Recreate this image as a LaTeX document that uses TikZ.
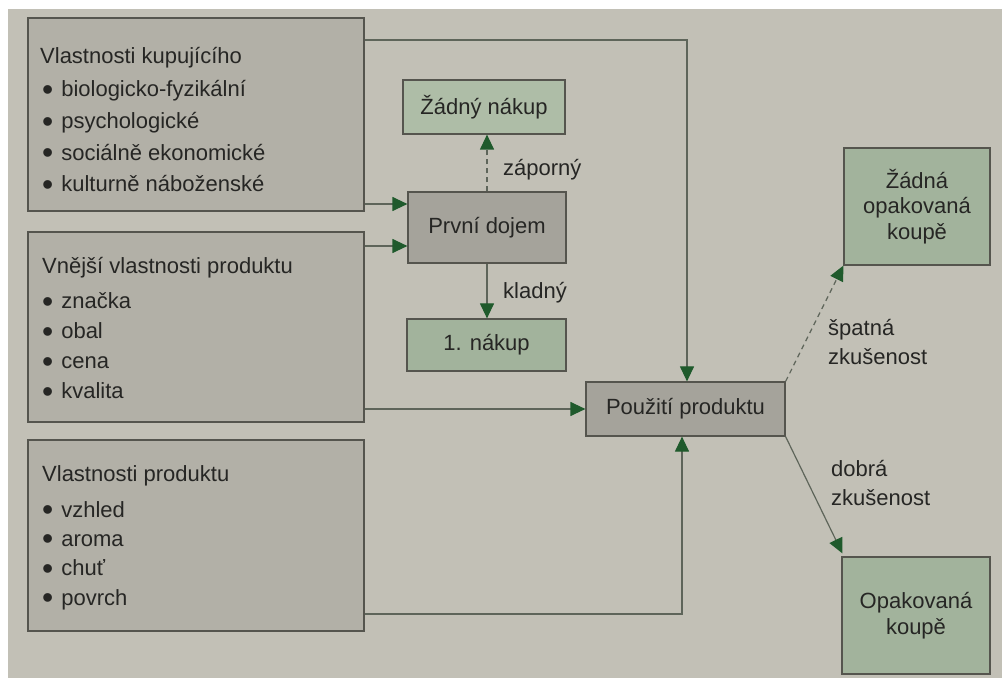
\documentclass[tikz,border=0pt]{standalone}
\usepackage{fontspec}
\setmainfont{Liberation Sans}
\usetikzlibrary{arrows.meta}

\definecolor{paper}{HTML}{C2C0B6}
\definecolor{boxgray}{HTML}{B2B0A7}
\definecolor{boxdark}{HTML}{A5A39B}
\definecolor{boxgreen}{HTML}{A2B39C}
\definecolor{boxgreenlt}{HTML}{AEBDA7}
\definecolor{edge}{HTML}{55554E}
\definecolor{wire}{HTML}{5E655A}
\definecolor{tipgreen}{HTML}{1F5A2C}
\definecolor{ink}{HTML}{262624}

\tikzset{
  panel/.style={draw=edge, line width=1.2pt, fill=boxgray, inner sep=0pt},
  darkpanel/.style={panel, fill=boxdark},
  greenpanel/.style={panel, fill=boxgreen},
  lightgreenpanel/.style={panel, fill=boxgreenlt},
  txt/.style={text=ink, font=\fontsize{22}{26}\selectfont, inner sep=0pt},
  heading/.style={txt, anchor=base west},
  bullet/.style={txt, anchor=base west},
  conn/.style={draw=wire, line width=1.2pt,
    -{Triangle[length=15pt,width=14pt,color=tipgreen]}},
  dashconn/.style={conn, dash pattern=on 5pt off 4pt},
}

% list item with a large round bullet, centred on the x-height
\newcommand{\itm}[1]{\raisebox{-0.16em}[0.5em][0pt]{\scalebox{1.45}{\textbullet}}\hspace{0.36em}#1}

\begin{document}
\begin{tikzpicture}[x=1pt,y=-1pt]
\useasboundingbox (0,0) rectangle (1005,679);
\fill[white] (0,0) rectangle (1005,679);
\fill[paper] (8,9) rectangle (1002,678);

% source panels on the left
\node[panel, minimum width=336pt, minimum height=193pt] (kup) at (196,114.5) {};
\node[heading] (kupT) at (40,64) {Vlastnosti kupujícího};
\foreach \t [count=\i] in {biologicko-fyzikální, psychologické, sociálně ekonomické, kulturně náboženské}
  \node[bullet] (kup-\i) at (42,{97+31.6*(\i-1)}) {\itm{\t}};

\node[panel, minimum width=336pt, minimum height=190pt] (vnej) at (196,327) {};
\node[heading] (vnejT) at (42,274) {Vnější vlastnosti produktu};
\foreach \t [count=\i] in {značka, obal, cena, kvalita}
  \node[bullet] (vnej-\i) at (42,{309+30*(\i-1)}) {\itm{\t}};

\node[panel, minimum width=336pt, minimum height=191pt] (vl) at (196,535.5) {};
\node[heading] (vlT) at (42,481) {Vlastnosti produktu};
\foreach \t [count=\i] in {vzhled, aroma, chuť, povrch}
  \node[bullet] (vl-\i) at (42,{517+29.4*(\i-1)}) {\itm{\t}};

% middle column
\node[lightgreenpanel, minimum width=162pt, minimum height=54pt] (zadny) at (484,107) {};
\node[txt] (zadnyT) at (zadny) {Žádný nákup};
\node[darkpanel, minimum width=158pt, minimum height=71pt] (dojem) at (487,227.5) {};
\node[txt] (dojemT) at (dojem) {První dojem};
\node[greenpanel, minimum width=159pt, minimum height=52pt] (nakup) at (486.5,345) {};
\node[txt] (nakupT) at (nakup) {1. nákup};
\node[darkpanel, minimum width=199pt, minimum height=54pt] (pouz) at (685.5,409) {};
\node[txt] (pouzT) at (pouz) {Použití produktu};

% outcomes on the right
\node[greenpanel, minimum width=146pt, minimum height=117pt] (zop) at (917,206.5) {};
\node[txt, align=center, font=\fontsize{22}{25.5}\selectfont] (zopT) at (zop) {Žádná\\opakovaná\\koupě};
\node[greenpanel, minimum width=148pt, minimum height=117pt] (op) at (916,615.5) {};
\node[txt, align=center, font=\fontsize{22}{26}\selectfont] (opT) at (op) {Opakovaná\\koupě};

% connectors
\coordinate (topTurn) at (687,40);
\draw[conn] (kup.east |- topTurn) -- (topTurn) -- (pouz.north -| topTurn);

\path ([yshift=23.5pt]dojem.west) coordinate (dIn1);
\path ([yshift=-18.5pt]dojem.west) coordinate (dIn2);
\draw[conn] (kup.east |- dIn1) -- (dIn1);
\draw[conn] (vnej.east |- dIn2) -- (dIn2);
\draw[conn] (vnej.east |- pouz.west) -- (pouz.west);

\coordinate (botTurn) at (682,614);
\draw[conn] (vl.east |- botTurn) -- (botTurn) -- (pouz.south -| botTurn);

\draw[dashconn] (dojem.north) -- (dojem.north |- zadny.south);
\draw[conn] (dojem.south) -- (dojem.south |- nakup.north);

\draw[dashconn] (pouz.north east) -- (zop.south west);
\draw[conn] (pouz.south east) -- ([xshift=1pt,yshift=3pt]op.north west);

% edge labels
\node[txt, anchor=west] (lblNeg) at (503,170) {záporný};
\node[txt, anchor=west] (lblPos) at (503,293) {kladný};
\node[txt, anchor=west, align=left, font=\fontsize{22}{29}\selectfont] (lblBad) at (828,342.5) {špatná\\zkušenost};
\node[txt, anchor=west, align=left, font=\fontsize{22}{29}\selectfont] (lblGood) at (831,483) {dobrá\\zkušenost};
\end{tikzpicture}
\end{document}
